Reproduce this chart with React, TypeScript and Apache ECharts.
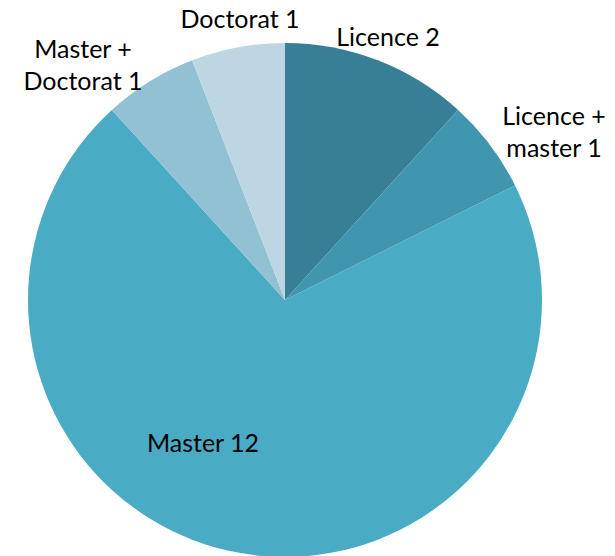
import React, { useEffect, useRef } from "react";
import * as echarts from "echarts";

const categories = ["Licence", "Licence +\nmaster", "Master", "Master +\nDoctorat", "Doctorat"];
const values = [2, 1, 12, 1, 1];
const colors = ["#377F96", "#4196AF", "#4AABC5", "#92C1D4", "#BCD6E3"];
const labelPos: [number, number][] = [
  [388, 36],
  [554, 131],
  [203, 442],
  [83, 64],
  [240, 18],
];

export default function App() {
  const ref = useRef<HTMLDivElement>(null);
  useEffect(() => {
    document.body.style.margin = "0";
    const chart = echarts.init(ref.current!, undefined, { renderer: "svg" });
    chart.setOption({
      animation: false,
      series: [
        {
          type: "pie",
          center: [285, 300],
          radius: 257,
          startAngle: 90,
          clockwise: true,
          avoidLabelOverlap: false,
          label: {
            show: true,
            position: "outside",
            formatter: (p: any) => `${p.name} ${p.value}`,
            fontFamily: "Lato",
            fontSize: 25,
            color: "#000",
            lineHeight: 32,
            align: "center",
          },
          labelLine: { show: false },
          labelLayout: (p: any) => ({
            x: labelPos[p.dataIndex][0],
            y: labelPos[p.dataIndex][1],
            align: "center",
            verticalAlign: "middle",
          }),
          itemStyle: { borderWidth: 0 },
          emphasis: { disabled: true },
          data: categories.map((c, i) => ({
            name: c,
            value: values[i],
            itemStyle: { color: colors[i] },
          })),
        },
      ],
    });
    return () => chart.dispose();
  }, []);
  return <div ref={ref} style={{ width: 615, height: 556 }} />;
}
